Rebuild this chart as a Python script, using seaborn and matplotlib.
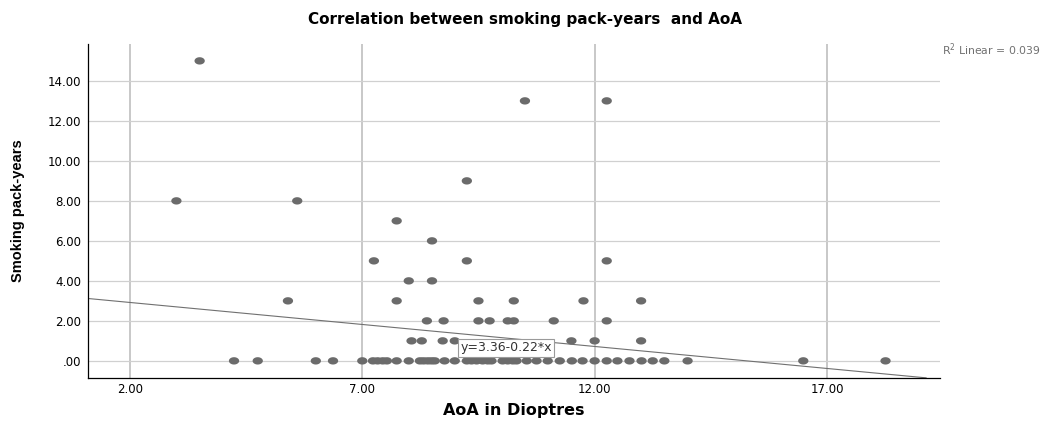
"""Smoking pack-years vs AoA scatter"""
import numpy as np
import pandas as pd
import seaborn as sns
import matplotlib.pyplot as plt
from matplotlib.ticker import FuncFormatter

# data
aoa_0 = [4.24, 4.75, 6.0, 6.37, 7.0, 7.23, 7.33, 7.44, 7.53, 7.74, 8.0, 8.24,
         8.32, 8.41, 8.49, 8.56, 8.77, 8.99, 9.25, 9.35, 9.46, 9.59, 9.70, 9.78,
         10.02, 10.13, 10.24, 10.32, 10.54, 10.75, 10.99, 11.25, 11.51, 11.74,
         12.0, 12.26, 12.49, 12.75, 13.01, 13.25, 13.5, 14.0, 16.49, 18.26]
aoa_1 = [8.06, 8.28, 8.73, 8.99, 11.5, 12.0, 13.0]
aoa_2 = [8.39, 8.75, 9.5, 9.74, 10.13, 10.26, 11.12, 12.26]
aoa_3 = [5.4, 7.74, 9.5, 10.26, 11.76, 13.0]
aoa_4 = [8.0, 8.5]
aoa_5 = [7.25, 9.25, 12.26]
aoa_6 = [8.5]
aoa_7 = [7.74]
aoa_8 = [3.0, 5.6]
aoa_9 = [9.25]
aoa_13 = [10.5, 12.26]
aoa_15 = [3.5]

intercept = 3.36
slope = -0.22
r2 = 0.039

groups = {0: aoa_0, 1: aoa_1, 2: aoa_2, 3: aoa_3, 4: aoa_4, 5: aoa_5,
          6: aoa_6, 7: aoa_7, 8: aoa_8, 9: aoa_9, 13: aoa_13, 15: aoa_15}
df = pd.DataFrame([(x, py) for py, xs in groups.items() for x in xs],
                  columns=['aoa', 'packyears'])

sns.set_style('white')
plt.rcParams['font.family'] = ['DejaVu Sans']
plt.rcParams['text.color'] = 'black'
plt.rcParams['axes.labelcolor'] = 'black'

fig = plt.figure(figsize=(10.49, 4.26), dpi=100)
ax = fig.add_axes([0.084, 0.113, 0.812, 0.784])

# slightly wide ellipse marker like SPSS
t = np.linspace(0, 2 * np.pi, 40)
ell = np.column_stack([1.4 * np.cos(t), np.sin(t)])

sns.scatterplot(data=df, x='aoa', y='packyears', ax=ax, marker=ell, s=55,
                color='#6b6b6b', edgecolor='none', zorder=3)

ax.set_xlim(1.1, 19.43)
ax.set_ylim(-0.85, 15.85)
ax.set_xticks([2, 7, 12, 17])
ax.set_yticks(np.arange(0, 15, 2))

fmt = FuncFormatter(lambda v, p: f'{v:.2f}'[1:] if abs(v) < 1 else f'{v:.2f}')
ax.xaxis.set_major_formatter(fmt)
ax.yaxis.set_major_formatter(fmt)
ax.tick_params(axis='both', labelsize=8.5, width=0.6, colors='black')
ax.tick_params(axis='x', length=0, pad=4)
ax.tick_params(axis='y', length=3, pad=2)

ax.grid(axis='y', color='#d0d0d0', lw=0.9, zorder=0)
ax.grid(axis='x', color='#c4c4c4', lw=1.3, zorder=0)
sns.despine(ax=ax)
for s in ['left', 'bottom']:
    ax.spines[s].set_color('black')
    ax.spines[s].set_linewidth(0.9)

# fit line
ax.axline((0, intercept), slope=slope, color='#707070', lw=0.8, zorder=2)
ax.text(10.09, 0.65, f'y={intercept:.2f}-{abs(slope):.2f}*x', fontsize=9,
        ha='center', va='center', zorder=4, color='#333333',
        bbox=dict(boxstyle='square,pad=0.2', fc='white', ec='#9a9a9a', lw=0.8))

fig.text(0.992, 0.883, f'R$^2$ Linear = {r2:.3f}', fontsize=7.8, color='#707070',
         ha='right', va='center')

fig.suptitle('Correlation between smoking pack-years  and AoA', y=0.972,
             fontsize=11, fontweight='bold', color='black')
ax.set_xlabel('AoA in Dioptres', fontsize=11.5, fontweight='bold', va='center')
ax.xaxis.set_label_coords(0.5, -0.099)
ax.set_ylabel('Smoking pack-years', fontsize=10.5, fontweight='bold',
              family='Liberation Sans', va='center')
ax.yaxis.set_label_coords(-0.082, 0.5)

fig.savefig('out.png', dpi=100)
